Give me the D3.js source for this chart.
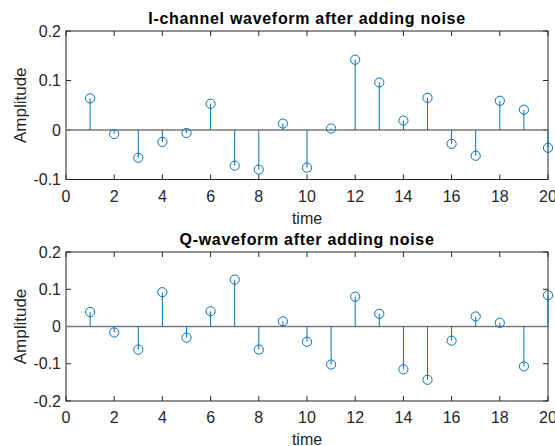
<!DOCTYPE html>
<html>
<head>
<meta charset="utf-8">
<script src="https://cdn.jsdelivr.net/npm/d3@7"></script>
<style>
  body { margin: 0; background: #fff; }
  text { font-family: "Liberation Sans", Arial, sans-serif; fill: #262626; }
</style>
</head>
<body>
<div id="chart"></div>
<script>
// sample index
var time = d3.range(1, 21);

// I-channel after noise
var iValues = [0.064, -0.008, -0.056, -0.024, -0.006, 0.053, -0.072, -0.080, 0.013, -0.076,
               0.003, 0.142, 0.096, 0.019, 0.065, -0.028, -0.052, 0.059, 0.041, -0.036];

// Q-channel after noise
var qValues = [0.039, -0.016, -0.062, 0.092, -0.030, 0.041, 0.126, -0.062, 0.014, -0.041,
               -0.102, 0.080, 0.034, -0.115, -0.143, -0.038, 0.027, 0.010, -0.107, 0.084];

var xTicks = [0, 2, 4, 6, 8, 10, 12, 14, 16, 18, 20];
var iTicks = [-0.1, 0, 0.1, 0.2];
var qTicks = [-0.2, -0.1, 0, 0.1, 0.2];

var W = 555, H = 446;
var svg = d3.select("#chart").append("svg")
  .attr("width", W)
  .attr("height", H);

var blue = "#0072BD";
var axisColor = "#262626";

function drawPanel(opts) {
  var x = d3.scaleLinear().domain([0, 20]).range([opts.left, opts.right]);
  var y = d3.scaleLinear().domain(opts.yDomain).range([opts.bottom, opts.top]);
  var g = svg.append("g");
  var tickLen = 5;

  // box
  g.append("rect")
    .attr("x", opts.left).attr("y", opts.top)
    .attr("width", opts.right - opts.left)
    .attr("height", opts.bottom - opts.top)
    .attr("fill", "none")
    .attr("stroke", axisColor)
    .attr("stroke-width", 1);

  // inward ticks on all sides
  g.selectAll(".xt").data(opts.xTicks).enter().append("line")
    .attr("x1", function(d) { return x(d); }).attr("x2", function(d) { return x(d); })
    .attr("y1", opts.bottom).attr("y2", opts.bottom - tickLen)
    .attr("stroke", axisColor);
  g.selectAll(".xt2").data(opts.xTicks).enter().append("line")
    .attr("x1", function(d) { return x(d); }).attr("x2", function(d) { return x(d); })
    .attr("y1", opts.top).attr("y2", opts.top + tickLen)
    .attr("stroke", axisColor);
  g.selectAll(".yt").data(opts.yTicks).enter().append("line")
    .attr("x1", opts.left).attr("x2", opts.left + tickLen)
    .attr("y1", function(d) { return y(d); }).attr("y2", function(d) { return y(d); })
    .attr("stroke", axisColor);
  g.selectAll(".yt2").data(opts.yTicks).enter().append("line")
    .attr("x1", opts.right).attr("x2", opts.right - tickLen)
    .attr("y1", function(d) { return y(d); }).attr("y2", function(d) { return y(d); })
    .attr("stroke", axisColor);

  // tick labels
  g.selectAll(".xl").data(opts.xTicks).enter().append("text")
    .attr("x", function(d) { return x(d); })
    .attr("y", opts.bottom + 22)
    .attr("text-anchor", "middle")
    .attr("font-size", 16)
    .text(function(d) { return d; });
  g.selectAll(".yl").data(opts.yTicks).enter().append("text")
    .attr("x", opts.left - 5)
    .attr("y", function(d) { return y(d) + 5.5; })
    .attr("text-anchor", "end")
    .attr("font-size", 16)
    .text(function(d) { return d; });

  // baseline
  g.append("line")
    .attr("x1", opts.left).attr("x2", opts.right)
    .attr("y1", y(0)).attr("y2", y(0))
    .attr("stroke", "#7a7a7a")
    .attr("stroke-width", 1.5);

  // stems
  g.selectAll(".stem").data(opts.values).enter().append("line")
    .attr("x1", function(d, i) { return x(time[i]); })
    .attr("x2", function(d, i) { return x(time[i]); })
    .attr("y1", y(0))
    .attr("y2", function(d) { return y(d); })
    .attr("stroke", blue)
    .attr("stroke-width", 1);

  g.selectAll(".mk").data(opts.values).enter().append("circle")
    .attr("cx", function(d, i) { return x(time[i]); })
    .attr("cy", function(d) { return y(d); })
    .attr("r", 4.6)
    .attr("fill", "none")
    .attr("stroke", blue)
    .attr("stroke-width", 1);

  // title + labels
  g.append("text")
    .attr("x", (opts.left + opts.right) / 2)
    .attr("y", opts.top - 7)
    .attr("text-anchor", "middle")
    .attr("font-size", 16)
    .attr("font-weight", "bold")
    .attr("letter-spacing", 0.7)
    .style("fill", "#000")
    .text(opts.title);
  g.append("text")
    .attr("x", (opts.left + opts.right) / 2)
    .attr("y", opts.bottom + 44)
    .attr("text-anchor", "middle")
    .attr("font-size", 16)
    .text("time");
  g.append("text")
    .attr("transform", "translate(26," + ((opts.top + opts.bottom) / 2) + ") rotate(-90)")
    .attr("text-anchor", "middle")
    .attr("font-size", 17)
    .text("Amplitude");
}

drawPanel({
  left: 66, right: 548, top: 31, bottom: 179.5,
  yDomain: [-0.1, 0.2], yTicks: iTicks, xTicks: xTicks,
  values: iValues, title: "I-channel waveform after adding noise"
});

drawPanel({
  left: 66, right: 548, top: 252, bottom: 401,
  yDomain: [-0.2, 0.2], yTicks: qTicks, xTicks: xTicks,
  values: qValues, title: "Q-waveform after adding noise"
});
</script>
</body>
</html>
